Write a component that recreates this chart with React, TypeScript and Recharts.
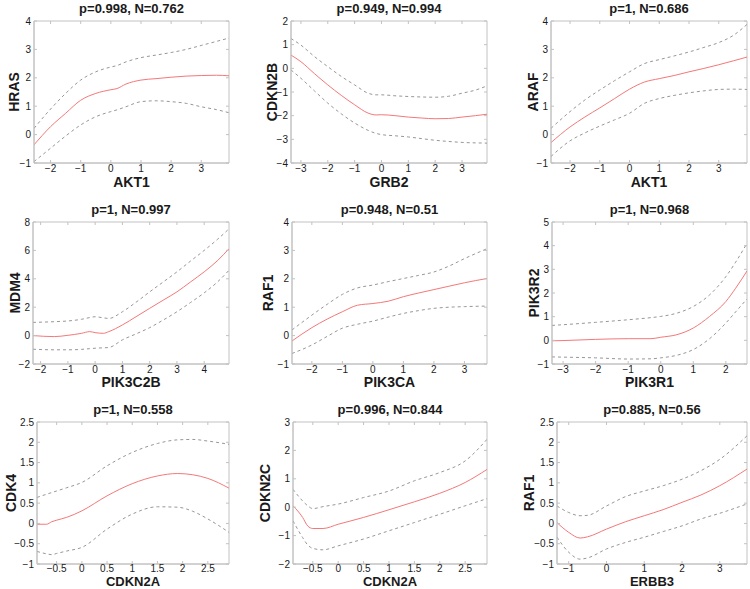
import React from 'react';
import { LineChart, Line, XAxis, YAxis, ReferenceArea } from 'recharts';

// ---------- Panel 1 ----------
const p1Title = 'p=0.998, N=0.762';
const p1XLabel = 'AKT1';
const p1YLabel = 'HRAS';
const p1X = [-2.55, -2, -1.5, -1, -0.5, 0, 0.2, 0.5, 1, 1.5, 2, 2.5, 3, 3.5, 3.92];
const p1Fit = [-0.36, 0.28, 0.75, 1.21, 1.45, 1.58, 1.62, 1.78, 1.92, 1.97, 2.02, 2.06, 2.08, 2.09, 2.07];
const p1Upper = [0.22, 0.9, 1.45, 1.92, 2.21, 2.38, 2.43, 2.56, 2.71, 2.8, 2.89, 3.0, 3.14, 3.28, 3.4];
const p1Lower = [-0.95, -0.48, -0.05, 0.34, 0.63, 0.81, 0.87, 0.98, 1.16, 1.19, 1.16, 1.1, 0.98, 0.88, 0.77];
const p1XDomain = [-2.55, 3.92];
const p1YDomain = [-1, 4];
const p1XTicks = [-2, -1, 0, 1, 2, 3];
const p1YTicks = [-1, 0, 1, 2, 3, 4];

// ---------- Panel 2 ----------
const p2Title = 'p=0.949, N=0.994';
const p2XLabel = 'GRB2';
const p2YLabel = 'CDKN2B';
const p2X = [-3.37, -3, -2.5, -2, -1.5, -1, -0.5, -0.2, 0, 0.5, 1, 1.5, 2, 2.5, 3, 3.5, 3.93];
const p2Fit = [0.56, 0.28, -0.22, -0.7, -1.14, -1.54, -1.89, -1.97, -1.96, -2.0, -2.06, -2.1, -2.13, -2.12, -2.06, -2.0, -1.94];
const p2Upper = [1.26, 0.98, 0.5, 0.07, -0.34, -0.7, -1.05, -1.12, -1.12, -1.16, -1.19, -1.21, -1.22, -1.18, -1.05, -0.92, -0.74];
const p2Lower = [-0.07, -0.42, -0.95, -1.47, -1.92, -2.31, -2.62, -2.75, -2.8, -2.85, -2.9, -2.97, -3.04, -3.09, -3.13, -3.15, -3.16];
const p2XDomain = [-3.37, 3.93];
const p2YDomain = [-4, 2];
const p2XTicks = [-3, -2, -1, 0, 1, 2, 3];
const p2YTicks = [-4, -3, -2, -1, 0, 1, 2];

// ---------- Panel 3 ----------
const p3Title = 'p=1, N=0.686';
const p3XLabel = 'AKT1';
const p3YLabel = 'ARAF';
const p3X = [-2.64, -2, -1.5, -1, -0.5, 0, 0.5, 1, 1.5, 2, 2.5, 3, 3.5, 3.95];
const p3Fit = [-0.28, 0.27, 0.62, 0.94, 1.27, 1.6, 1.85, 1.97, 2.08, 2.21, 2.33, 2.46, 2.6, 2.73];
const p3Upper = [0.22, 0.81, 1.22, 1.57, 1.9, 2.21, 2.5, 2.64, 2.77, 2.91, 3.07, 3.24, 3.5, 3.88];
const p3Lower = [-0.77, -0.22, 0.06, 0.3, 0.52, 0.75, 1.1, 1.27, 1.38, 1.47, 1.54, 1.59, 1.6, 1.59];
const p3XDomain = [-2.64, 3.95];
const p3YDomain = [-1, 4];
const p3XTicks = [-2, -1, 0, 1, 2, 3];
const p3YTicks = [-1, 0, 1, 2, 3, 4];

// ---------- Panel 4 ----------
const p4Title = 'p=1, N=0.997';
const p4XLabel = 'PIK3C2B';
const p4YLabel = 'MDM4';
const p4X = [-2.28, -1.5, -1, -0.5, -0.2, 0, 0.3, 0.5, 1, 1.5, 2, 2.5, 3, 3.5, 4, 4.5, 4.91];
const p4Fit = [0, -0.07, 0.02, 0.16, 0.28, 0.21, 0.16, 0.28, 0.75, 1.33, 1.92, 2.5, 3.08, 3.78, 4.49, 5.3, 6.12];
const p4Upper = [0.93, 0.98, 1.03, 1.15, 1.27, 1.33, 1.25, 1.21, 1.68, 2.35, 3.08, 3.78, 4.49, 5.25, 6.0, 6.8, 7.52];
const p4Lower = [-0.96, -1.0, -1.0, -0.97, -0.92, -0.89, -0.86, -0.84, -0.3, 0.12, 0.56, 1.1, 1.68, 2.33, 3.01, 3.8, 4.6];
const p4XDomain = [-2.28, 4.91];
const p4YDomain = [-2, 8];
const p4XTicks = [-2, -1, 0, 1, 2, 3, 4];
const p4YTicks = [-2, 0, 2, 4, 6, 8];

// ---------- Panel 5 ----------
const p5Title = 'p=0.948, N=0.51';
const p5XLabel = 'PIK3CA';
const p5YLabel = 'RAF1';
const p5X = [-2.65, -2, -1.5, -1, -0.5, 0, 0.5, 1, 1.5, 2, 2.5, 3, 3.74];
const p5Fit = [-0.19, 0.28, 0.58, 0.84, 1.07, 1.13, 1.21, 1.37, 1.5, 1.62, 1.74, 1.86, 2.01];
const p5Upper = [0.2, 0.72, 1.1, 1.45, 1.68, 1.78, 1.9, 2.01, 2.12, 2.24, 2.45, 2.71, 3.06];
const p5Lower = [-0.63, -0.33, -0.03, 0.26, 0.4, 0.51, 0.65, 0.78, 0.88, 0.96, 1.0, 1.02, 1.04];
const p5XDomain = [-2.65, 3.74];
const p5YDomain = [-1, 4];
const p5XTicks = [-2, -1, 0, 1, 2, 3];
const p5YTicks = [-1, 0, 1, 2, 3, 4];

// ---------- Panel 6 ----------
const p6Title = 'p=1, N=0.968';
const p6XLabel = 'PIK3R1';
const p6YLabel = 'PIK3R2';
const p6X = [-3.34, -3, -2, -1, -0.3, 0, 0.5, 1, 1.5, 2, 2.3, 2.65];
const p6Fit = [-0.02, -0.01, 0.04, 0.07, 0.07, 0.13, 0.24, 0.52, 1.01, 1.64, 2.2, 2.93];
const p6Upper = [0.63, 0.66, 0.76, 0.87, 0.96, 1.01, 1.15, 1.43, 1.92, 2.69, 3.3, 4.1];
const p6Lower = [-0.7, -0.71, -0.74, -0.79, -0.78, -0.74, -0.63, -0.39, 0.07, 0.73, 1.2, 1.75];
const p6XDomain = [-3.34, 2.65];
const p6YDomain = [-1, 5];
const p6XTicks = [-3, -2, -1, 0, 1, 2];
const p6YTicks = [-1, 0, 1, 2, 3, 4, 5];

// ---------- Panel 7 ----------
const p7Title = 'p=1, N=0.558';
const p7XLabel = 'CDKN2A';
const p7YLabel = 'CDK4';
const p7X = [-0.89, -0.7, -0.6, -0.5, -0.3, 0, 0.5, 1, 1.5, 1.9, 2.2, 2.5, 2.92];
const p7Fit = [-0.02, -0.02, 0.04, 0.08, 0.15, 0.31, 0.68, 0.98, 1.17, 1.23, 1.2, 1.11, 0.87];
const p7Upper = [0.64, 0.72, 0.76, 0.8, 0.88, 1.01, 1.42, 1.75, 1.97, 2.06, 2.07, 2.03, 1.95];
const p7Lower = [-0.69, -0.75, -0.77, -0.74, -0.68, -0.59, -0.14, 0.23, 0.41, 0.4, 0.3, 0.11, -0.22];
const p7XDomain = [-0.89, 2.92];
const p7YDomain = [-1, 2.5];
const p7XTicks = [-0.5, 0, 0.5, 1, 1.5, 2, 2.5];
const p7YTicks = [-1, -0.5, 0, 0.5, 1, 1.5, 2, 2.5];

// ---------- Panel 8 ----------
const p8Title = 'p=0.996, N=0.844';
const p8XLabel = 'CDKN2A';
const p8YLabel = 'CDKN2C';
const p8X = [-0.89, -0.7, -0.6, -0.5, -0.3, 0, 0.5, 1, 1.5, 2, 2.5, 2.93];
const p8Fit = [0.05, -0.36, -0.66, -0.75, -0.75, -0.6, -0.36, -0.09, 0.19, 0.49, 0.87, 1.33];
const p8Upper = [0.63, 0.22, 0.05, -0.05, 0.02, 0.11, 0.34, 0.57, 0.93, 1.22, 1.63, 2.39];
const p8Lower = [-0.48, -1.07, -1.33, -1.45, -1.5, -1.36, -1.12, -0.83, -0.54, -0.25, 0.05, 0.3];
const p8XDomain = [-0.89, 2.93];
const p8YDomain = [-2, 3];
const p8XTicks = [-0.5, 0, 0.5, 1, 1.5, 2, 2.5];
const p8YTicks = [-2, -1, 0, 1, 2, 3];

// ---------- Panel 9 ----------
const p9Title = 'p=0.885, N=0.56';
const p9XLabel = 'ERBB3';
const p9YLabel = 'RAF1';
const p9X = [-1.31, -1, -0.7, -0.5, 0, 0.5, 1, 1.5, 2, 2.5, 3, 3.72];
const p9Fit = [0.02, -0.22, -0.36, -0.33, -0.14, 0.04, 0.19, 0.34, 0.52, 0.7, 0.93, 1.34];
const p9Upper = [0.43, 0.27, 0.19, 0.2, 0.43, 0.66, 0.8, 0.93, 1.09, 1.3, 1.58, 2.16];
const p9Lower = [-0.34, -0.71, -0.88, -0.85, -0.63, -0.47, -0.34, -0.2, -0.06, 0.11, 0.25, 0.48];
const p9XDomain = [-1.31, 3.72];
const p9YDomain = [-1, 2.5];
const p9XTicks = [-1, 0, 1, 2, 3];
const p9YTicks = [-1, -0.5, 0, 0.5, 1, 1.5, 2, 2.5];

const panels = [
  { title: p1Title, xLabel: p1XLabel, yLabel: p1YLabel, x: p1X, fit: p1Fit, upper: p1Upper, lower: p1Lower, xDomain: p1XDomain, yDomain: p1YDomain, xTicks: p1XTicks, yTicks: p1YTicks },
  { title: p2Title, xLabel: p2XLabel, yLabel: p2YLabel, x: p2X, fit: p2Fit, upper: p2Upper, lower: p2Lower, xDomain: p2XDomain, yDomain: p2YDomain, xTicks: p2XTicks, yTicks: p2YTicks },
  { title: p3Title, xLabel: p3XLabel, yLabel: p3YLabel, x: p3X, fit: p3Fit, upper: p3Upper, lower: p3Lower, xDomain: p3XDomain, yDomain: p3YDomain, xTicks: p3XTicks, yTicks: p3YTicks },
  { title: p4Title, xLabel: p4XLabel, yLabel: p4YLabel, x: p4X, fit: p4Fit, upper: p4Upper, lower: p4Lower, xDomain: p4XDomain, yDomain: p4YDomain, xTicks: p4XTicks, yTicks: p4YTicks },
  { title: p5Title, xLabel: p5XLabel, yLabel: p5YLabel, x: p5X, fit: p5Fit, upper: p5Upper, lower: p5Lower, xDomain: p5XDomain, yDomain: p5YDomain, xTicks: p5XTicks, yTicks: p5YTicks },
  { title: p6Title, xLabel: p6XLabel, yLabel: p6YLabel, x: p6X, fit: p6Fit, upper: p6Upper, lower: p6Lower, xDomain: p6XDomain, yDomain: p6YDomain, xTicks: p6XTicks, yTicks: p6YTicks },
  { title: p7Title, xLabel: p7XLabel, yLabel: p7YLabel, x: p7X, fit: p7Fit, upper: p7Upper, lower: p7Lower, xDomain: p7XDomain, yDomain: p7YDomain, xTicks: p7XTicks, yTicks: p7YTicks },
  { title: p8Title, xLabel: p8XLabel, yLabel: p8YLabel, x: p8X, fit: p8Fit, upper: p8Upper, lower: p8Lower, xDomain: p8XDomain, yDomain: p8YDomain, xTicks: p8XTicks, yTicks: p8YTicks },
  { title: p9Title, xLabel: p9XLabel, yLabel: p9YLabel, x: p9X, fit: p9Fit, upper: p9Upper, lower: p9Lower, xDomain: p9XDomain, yDomain: p9YDomain, xTicks: p9XTicks, yTicks: p9YTicks },
];

// plot-box layout (page pixels), y-label offset, x-label baseline offset, x-label size, tick baseline offset
const layout = [
  { left: 34, top: 21, w: 195, h: 142, yl: 20, xl: 24, xs: 14, tk: 9 },
  { left: 291, top: 21, w: 196, h: 142, yl: 19, xl: 24, xs: 14, tk: 9 },
  { left: 551, top: 21, w: 196, h: 142, yl: 18, xl: 24, xs: 14, tk: 9 },
  { left: 33, top: 222, w: 196, h: 142, yl: 18, xl: 23, xs: 14, tk: 9 },
  { left: 292, top: 222, w: 195, h: 142, yl: 24, xl: 23, xs: 14, tk: 9 },
  { left: 552, top: 222, w: 195, h: 142, yl: 18, xl: 23, xs: 14, tk: 9 },
  { left: 37, top: 422, w: 192, h: 142, yl: 26, xl: 22, xs: 13, tk: 8 },
  { left: 293, top: 422, w: 194, h: 142, yl: 28, xl: 22, xs: 13, tk: 8 },
  { left: 557, top: 422, w: 190, h: 142, yl: 28, xl: 22, xs: 13, tk: 8 },
];

const FONT = '"Liberation Sans", Arial, Helvetica, sans-serif';
const FRAME = '#c2c2c2';
const TEXT = '#1a1a1a';
const FIT_COLOR = '#f47878';
const BAND_COLOR = '#979797';
const Y_AXIS_W = 40;
const X_AXIS_H = 25;
const M_TOP = 5;
const M_RIGHT = 5;

const fmt = (v: number) => (v < 0 ? '\u2212' + String(Math.abs(v)) : String(v));

const makeXTick = (plotH: number, off: number) => (props: any) => {
  const { x, y, payload } = props;
  return (
    <g>
      <line x1={x} y1={y} x2={x} y2={y - 3} stroke={FRAME} />
      <line x1={x} y1={y - plotH} x2={x} y2={y - plotH + 3} stroke={FRAME} />
      <text x={x} y={y + off} textAnchor="middle" fontSize={10} fontFamily={FONT} fill={TEXT}>
        {fmt(payload.value)}
      </text>
    </g>
  );
};

const makeYTick = (plotW: number) => (props: any) => {
  const { x, y, payload } = props;
  return (
    <g>
      <line x1={x} y1={y} x2={x + 3} y2={y} stroke={FRAME} />
      <line x1={x + plotW} y1={y} x2={x + plotW - 3} y2={y} stroke={FRAME} />
      <text x={x - 3} y={y + 3.5} textAnchor="end" fontSize={10} fontFamily={FONT} fill={TEXT}>
        {fmt(payload.value)}
      </text>
    </g>
  );
};

function Panel({ p, l }: { p: any; l: any }) {
  const data = p.x.map((xv: number, i: number) => ({ x: xv, fit: p.fit[i], upper: p.upper[i], lower: p.lower[i] }));
  const width = l.w + Y_AXIS_W + M_RIGHT;
  const height = l.h + M_TOP + X_AXIS_H;
  return (
    <div style={{ position: 'absolute', left: l.left - Y_AXIS_W, top: l.top - M_TOP, width, height }}>
      <LineChart width={width} height={height} data={data} margin={{ top: M_TOP, right: M_RIGHT, bottom: 0, left: 0 }}>
        <XAxis
          dataKey="x"
          type="number"
          domain={p.xDomain}
          ticks={p.xTicks}
          allowDataOverflow
          interval={0}
          height={X_AXIS_H}
          tickSize={0}
          tickMargin={0}
          tickLine={false}
          axisLine={{ stroke: FRAME }}
          tick={makeXTick(l.h, l.tk)}
        />
        <YAxis
          type="number"
          domain={p.yDomain}
          ticks={p.yTicks}
          allowDataOverflow
          interval={0}
          width={Y_AXIS_W}
          tickSize={0}
          tickMargin={0}
          tickLine={false}
          axisLine={{ stroke: FRAME }}
          tick={makeYTick(l.w)}
        />
        <ReferenceArea
          x1={p.xDomain[0]}
          x2={p.xDomain[1]}
          y1={p.yDomain[0]}
          y2={p.yDomain[1]}
          fill="none"
          fillOpacity={0}
          stroke={FRAME}
          strokeWidth={1}
        />
        <Line type="monotone" dataKey="upper" stroke={BAND_COLOR} strokeWidth={1} strokeDasharray="3 3" dot={false} activeDot={false} isAnimationActive={false} />
        <Line type="monotone" dataKey="lower" stroke={BAND_COLOR} strokeWidth={1} strokeDasharray="3 3" dot={false} activeDot={false} isAnimationActive={false} />
        <Line type="monotone" dataKey="fit" stroke={FIT_COLOR} strokeWidth={1} dot={false} activeDot={false} isAnimationActive={false} />
      </LineChart>
    </div>
  );
}

export default function App() {
  return (
    <div style={{ position: 'absolute', left: 0, top: 0, width: 750, height: 589, background: '#ffffff', overflow: 'hidden' }}>
      {panels.map((p, i) => (
        <Panel key={i} p={p} l={layout[i]} />
      ))}
      <svg width={750} height={589} style={{ position: 'absolute', left: 0, top: 0, pointerEvents: 'none' }}>
        {panels.map((p, i) => {
          const l = layout[i];
          const cx = l.left + l.w / 2;
          const cy = l.top + l.h / 2;
          const ylx = l.left - l.yl + 5;
          return (
            <g key={i} fontFamily={FONT} fill={TEXT} fontWeight="bold">
              <text x={cx} y={l.top - 8} textAnchor="middle" fontSize={13}>{p.title}</text>
              <text x={cx} y={l.top + l.h + l.xl} textAnchor="middle" fontSize={l.xs}>{p.xLabel}</text>
              <text x={ylx} y={cy} textAnchor="middle" fontSize={14} transform={`rotate(-90 ${ylx} ${cy})`}>{p.yLabel}</text>
            </g>
          );
        })}
      </svg>
    </div>
  );
}
